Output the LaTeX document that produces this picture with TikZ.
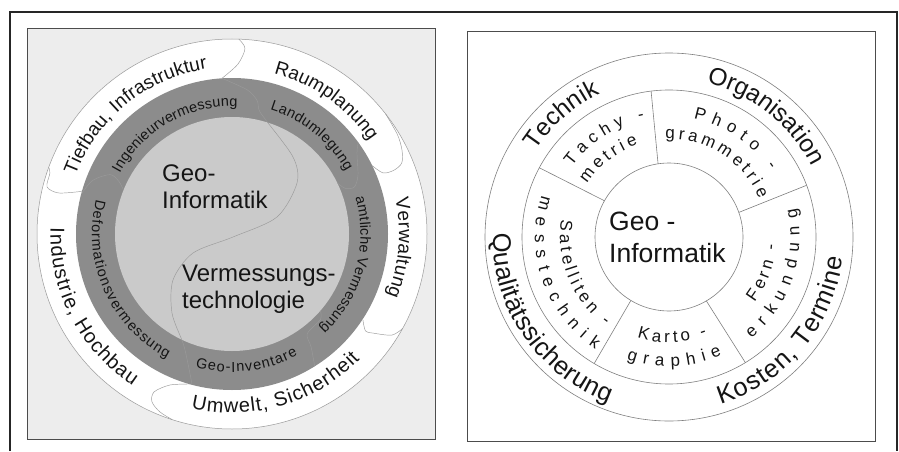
\documentclass[tikz,border=0pt]{standalone}
\usepackage{fontspec}
\setmainfont{Liberation Sans}
\usetikzlibrary{decorations.text}
\definecolor{ringdark}{HTML}{8C8C8C}
\definecolor{disklight}{HTML}{CACACA}
\definecolor{boxbg}{HTML}{EDEDED}
\definecolor{lobegray}{HTML}{9A9A9A}
\definecolor{ink}{HTML}{151515}
\definecolor{linegray}{HTML}{808080}
\newcommand\fOutL{\fontsize{19}{19}\selectfont}
\newcommand\fOutLb{\fontsize{20}{20}\selectfont}
\newcommand\fRingL{\fontsize{14.5}{14.5}\selectfont}
\newcommand\fOutR{\fontsize{24.5}{24.5}\selectfont}
\newcommand\fOutRb{\fontsize{25.5}{25.5}\selectfont}
\newcommand\fMidR{\fontsize{17}{17}\selectfont}
\newcommand\arctext[5]{%
  \path[decorate,decoration={text along path,text={#5},text align={fit to path},text color=ink}]
    (#1) ++(#2:#4) arc[start angle=#2,end angle=#3,radius=#4];}
\begin{document}
\begin{tikzpicture}[x=1pt,y=1pt,
  frameline/.style={draw=black!85,line width=1.1pt},
  panelbox/.style={draw=black!70,line width=1pt},
  lobe/.style={draw=lobegray,line width=0.45pt},
  wheel/.style={draw=linegray,line width=0.6pt},
  spoke/.style={draw=linegray,line width=0.6pt},
  bigtext/.style={inner sep=0pt,anchor=base west,text=ink}]
\useasboundingbox (0,0) rectangle (899,451);
\fill[white] (0,0) rectangle (899,451);
\draw[frameline] (10,0) -- (10,439) -- (897,439) -- (897,0);
% ---------------- left panel ----------------
\draw[panelbox,fill=boxbg] (27,12) rectangle (435,422);
\coordinate (L) at (232,217);
\fill[white] (L) circle[radius=195];
\draw[draw=lobegray,line width=0.5pt] (L) circle[radius=195];
\fill[ringdark] (L) circle[radius=156];
\fill[disklight] (L) circle[radius=117];
\begin{scope}[shift={(L)}]
  \draw[lobe] plot[smooth] coordinates {(88:195) (86:186) (88:170) (93.7:156)};
  \draw[lobe] plot[smooth] coordinates {(93.7:156) (84:145) (79.4:136) (27,124) (33,115) (61,77) (65,51) (45,17) (1,-3) (-39,-19) (-59,-46) (-60,-79) (-49,-109) (-45,-125) (-40,-150)};
  \draw[lobe] plot[smooth] coordinates {(-40,-150) (-62,-151) (-78,-158) (-80,-168) (-72,-178) (-60,-185.5)};
  \draw[lobe] plot[smooth] coordinates {(38:195) (31:193) (26.3:189.6) (22.7:184) (21.5:174) (22:163) (26:156)};
  \draw[lobe] plot[smooth] coordinates {(36:156) (33:149) (25:139) (21:131) (22:122) (26:117)};
  \draw[lobe] plot[smooth] coordinates {(-33.3:156.7) (-36:165) (-35.1:172.3) (-32.3:189.2) (-29:195)};
  \draw[lobe] plot[smooth] coordinates {(-41:117) (-44:123) (-53:125) (-55:138) (-58:156)};
  \draw[lobe] plot[smooth] coordinates {(160:195) (161.5:192) (165.7:190.9) (166.7:178.8) (164.8:160.6) (164:156)};
  \draw[lobe] plot[smooth] coordinates {(164.7:155.5) (158.8:149) (154:135.5) (155:125) (158:117)};
\end{scope}
\arctext{L}{159.5}{98.5}{167}{|\fOutL|Tiefbau, Infrastruktur}
\arctext{L}{75.4}{34.0}{166}{|\fOutL|Raumplanung}
\arctext{L}{12.2}{-21.6}{167}{|\fOutL|Verwaltung}
\arctext{L}{256.8}{315.6}{179}{|\fOutLb|Umwelt, Sicherheit}
\arctext{L}{177.9}{236.8}{181.5}{|\fOutLb|Industrie, Hochbau}
\arctext{L}{151.5}{87.6}{127.5}{|\fRingL|Ingenieurvermessung}
\arctext{L}{73}{29}{130}{|\fRingL|Landumlegung}
\arctext{L}{16.3}{-47.1}{128.5}{|\fRingL|amtliche Vermessung}
\arctext{L}{254.6}{298.5}{138}{|\fRingL|Geo-Inventare}
\arctext{L}{165.7}{242.3}{140}{|\fRingL|Deformationsvermessung}
\node[bigtext,font=\fontsize{24}{24}\selectfont] (geoL1) at (162,269.3) {Geo-};
\node[bigtext,font=\fontsize{24}{24}\selectfont] (geoL2) at (162,242.7) {Informatik};
\node[bigtext,font=\fontsize{24}{24}\selectfont] (verm1) at (182,169.3) {Vermessungs-};
\node[bigtext,font=\fontsize{24}{24}\selectfont] (verm2) at (182,143) {technologie};
% ---------------- right panel ----------------
\draw[panelbox] (467,10) rectangle (875,419);
\coordinate (R) at (669,214);
\draw[wheel] (R) circle[radius=184];
\draw[wheel] (R) circle[radius=147];
\draw[wheel] (R) circle[radius=74];
\begin{scope}[shift={(R)}]
  \draw[spoke] (98.5:74) -- (97:147);
  \draw[spoke] (19.4:74) -- (20.6:147);
  \draw[spoke] (150.7:74) -- (151.9:147);
  \draw[spoke] (239:74) -- (239.4:147);
  \draw[spoke] (300.3:74) -- (301.3:147);
\end{scope}
\arctext{R}{147.1}{115.7}{159}{|\fOutR|Technik}
\arctext{R}{76.3}{26.6}{159}{|\fOutR|Organisation}
\arctext{R}{178.8}{249.9}{176}{|\fOutRb|Qualitätssicherung}
\arctext{R}{-72.9}{-6.7}{175}{|\fOutRb|Kosten, Termine}
\arctext{R}{144}{101.7}{120}{|\fMidR|Tachy -}
\arctext{R}{147.1}{108.5}{97.5}{|\fMidR|metrie}
\arctext{R}{78.3}{33.8}{121}{|\fMidR|Photo -}
\arctext{R}{92.2}{23.0}{98}{|\fMidR|grammetrie}
\arctext{R}{170.9}{234.3}{109}{|\fMidR|Satelliten -}
\arctext{R}{161.8}{236.6}{134}{|\fMidR|messtechnik}
\arctext{R}{252.4}{291.2}{105.5}{|\fMidR|Karto -}
\arctext{R}{250.9}{294.1}{129.5}{|\fMidR|graphie}
\arctext{R}{-37.3}{-4.0}{107.5}{|\fMidR|Fern -}
\arctext{R}{-50.9}{12.6}{130.5}{|\fMidR|erkundung}
\node[bigtext,font=\fontsize{26.5}{26.5}\selectfont] (geoR1) at (609,221) {Geo -};
\node[bigtext,font=\fontsize{26.5}{26.5}\selectfont] (geoR2) at (609,189) {Informatik};
\end{tikzpicture}
\end{document}
